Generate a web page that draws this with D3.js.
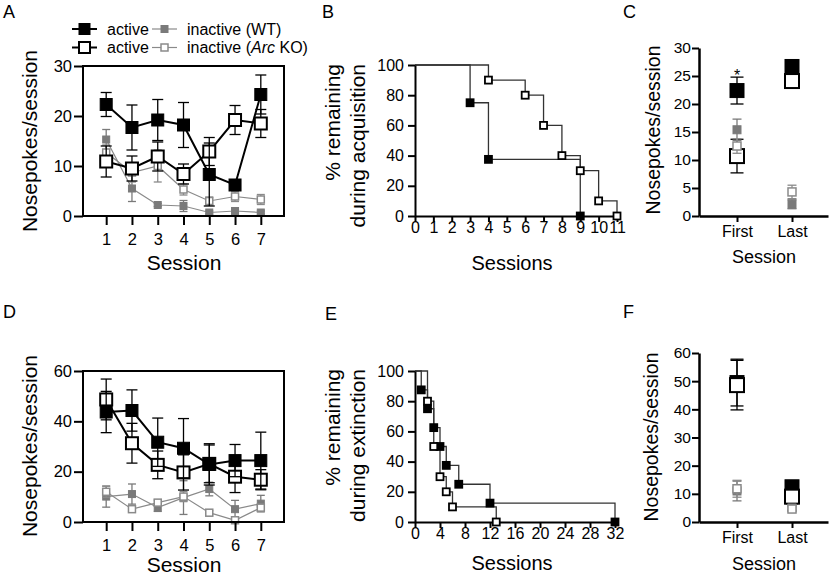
<!DOCTYPE html>
<html>
<head>
<script src="https://d3js.org/d3.v7.min.js"></script>
<style>
  body { margin: 0; background: #fff; }
  svg text { font-family: "Liberation Sans", Arial, sans-serif; fill: #000; }
</style>
</head>
<body>
<script>
// ---- data ----
var sessions = [1, 2, 3, 4, 5, 6, 7];

// A: acquisition, mean and SEM per session
var acqActiveWT      = [22.3, 17.7, 19.2, 18.2, 8.3, 6.2, 24.3];
var acqActiveWTsem   = [2.4, 4.5, 4.1, 4.5, 6.3, 0.8, 3.9];
var acqActiveKO      = [10.9, 9.5, 11.9, 8.4, 12.9, 19.2, 18.5];
var acqActiveKOsem   = [3.1, 2.5, 2.9, 2.0, 2.8, 2.9, 2.8];
var acqInactiveWT    = [15.3, 5.5, 2.2, 2.0, 0.7, 1.0, 0.7];
var acqInactiveWTsem = [2.0, 2.6, 0.3, 1.1, 0.3, 0.3, 0.3];
var acqInactiveKO    = [12.7, 8.7, 10.0, 5.3, 3.0, 3.9, 3.3];
var acqInactiveKOsem = [1.5, 1.9, 3.2, 1.1, 0.8, 1.0, 1.0];

// D: extinction
var extActiveWT      = [43.7, 44.3, 31.7, 29.3, 22.9, 24.4, 24.4];
var extActiveWTsem   = [8.2, 8.2, 9.6, 11.8, 8.2, 6.4, 11.3];
var extActiveKO      = [48.7, 31.3, 22.7, 19.7, 23.1, 18.0, 16.8];
var extActiveKOsem   = [8.1, 7.9, 5.5, 7.0, 7.5, 6.3, 4.0];
var extInactiveWT    = [10.1, 11.1, 5.7, 9.7, 13.1, 5.1, 7.3];
var extInactiveWTsem = [4.2, 4.0, 1.5, 6.7, 2.7, 3.5, 3.3];
var extInactiveKO    = [12.0, 5.1, 7.7, 10.1, 3.7, 0.7, 5.7];
var extInactiveKOsem = [2.2, 0.8, 1.0, 2.0, 0.8, 0.5, 1.0];

// B: % remaining during acquisition (step points)
var acqSurvWTt  = [0, 3, 4, 9];
var acqSurvWT   = [100, 75, 37.5, 0];
var acqSurvKOt  = [0, 4, 6, 7, 8, 9, 10, 11];
var acqSurvKO   = [100, 90, 80, 60, 40, 30, 10, 0];

// E: % remaining during extinction
var extSurvWTt  = [0, 1, 2, 3, 4, 5, 7, 12, 32];
var extSurvWT   = [100, 87.5, 75, 62.5, 50, 37.5, 25, 12.5, 0];
var extSurvKOt  = [0, 2, 3, 4, 5, 6, 13];
var extSurvKO   = [100, 80, 50, 30, 20, 10, 0];

// C / F: first vs last session
var firstLast = ["First", "Last"];
var cActiveWT = [22.4, 26.7], cActiveWTsem = [2.4, 1.2];
var cActiveKO = [10.7, 24.1], cActiveKOsem = [3.0, 1.0];
var cInactiveWT = [15.4, 2.1], cInactiveWTsem = [1.9, 0.8];
var cInactiveKO = [12.5, 4.3], cInactiveKOsem = [1.3, 1.2];

var fActiveWT = [49.5, 12.5], fActiveWTsem = [8.3, 1.0];
var fActiveKO = [48.6, 9.0], fActiveKOsem = [8.8, 2.5];
var fInactiveWT = [11.0, 5.0], fInactiveWTsem = [3.5, 0.8];
var fInactiveKO = [11.8, 4.6], fInactiveKOsem = [3.0, 0.8];

var acqTicksY = [0, 10, 20, 30];
var extTicksY = [0, 20, 40, 60];
var survTicksY = [0, 20, 40, 60, 80, 100];
var acqSurvTicksX = d3.range(0, 12);
var extSurvTicksX = [0, 4, 8, 12, 16, 20, 24, 28, 32];
var cTicksY = [0, 5, 10, 15, 20, 25, 30];
var fTicksY = [0, 10, 20, 30, 40, 50, 60];

// ---- styles ----
var gray = "#7a7a7a";
var styles = {
  activeWT:   {fill: "#000", stroke: "#000", sw: 1, size: 12, line: "#000", lw: 2, err: "#000", cap: 11},
  activeKO:   {fill: "#fff", stroke: "#000", sw: 2, size: 12, line: "#000", lw: 2, err: "#000", cap: 11},
  inactiveWT: {fill: gray, stroke: gray, sw: 1, size: 7, line: "#8a8a8a", lw: 1.2, err: gray, cap: 8},
  inactiveKO: {fill: "#fff", stroke: "#8a8a8a", sw: 1.5, size: 7, line: "#8a8a8a", lw: 1.2, err: "#8a8a8a", cap: 8}
};

var svg = d3.select("body").append("svg")
  .attr("width", 830).attr("height", 576);

function styleAxis(g, fs) {
  g.attr("font-family", "Liberation Sans, Arial, sans-serif").attr("font-size", fs);
  g.selectAll("line").attr("stroke", "#000").attr("stroke-width", 2);
  g.selectAll("path").attr("stroke", "#000").attr("stroke-width", 2);
  g.selectAll("text").attr("fill", "#000");
}

function square(g, x, y, st, big) {
  var s = big || st.size;
  g.append("rect")
    .attr("x", x - s / 2).attr("y", y - s / 2)
    .attr("width", s).attr("height", s)
    .attr("fill", st.fill).attr("stroke", st.stroke).attr("stroke-width", st.sw);
}

function errBar(g, x, y, mean, sem, st) {
  var t = y(mean + sem), b = y(Math.max(0, mean - sem));
  g.append("line").attr("x1", x).attr("x2", x).attr("y1", t).attr("y2", b)
    .attr("stroke", st.err).attr("stroke-width", 1.3);
  [t, b].forEach(function(v) {
    g.append("line").attr("x1", x - st.cap / 2).attr("x2", x + st.cap / 2)
      .attr("y1", v).attr("y2", v).attr("stroke", st.err).attr("stroke-width", 1.3);
  });
}

function yLabel(lines, x0, y0, anchor, fs) {
  lines.forEach(function(t, i) {
    svg.append("text")
      .attr("transform", "translate(" + (x0 + i * 25) + "," + y0 + ") rotate(-90)")
      .attr("text-anchor", anchor).attr("font-size", fs).text(t);
  });
}

// ---- session line panels (A, D) ----
function sessionPanel(top, bottom, ymax, ticks, series) {
  var x = d3.scaleLinear().domain([0.1, 7.9]).range([83, 284]);
  var y = d3.scaleLinear().domain([0, ymax]).range([bottom, top]);
  var g = svg.append("g");

  series.forEach(function(s) {
    var st = styles[s.key];
    s.mean.forEach(function(m, i) { errBar(g, x(sessions[i]), y, m, s.sem[i], st); });
    g.append("path")
      .attr("d", d3.line().x(function(d, i) { return x(sessions[i]); }).y(function(d) { return y(d); })(s.mean))
      .attr("fill", "none").attr("stroke", st.line).attr("stroke-width", st.lw);
    s.mean.forEach(function(m, i) { square(g, x(sessions[i]), y(m), st); });
  });

  g.append("rect").attr("x", 83).attr("y", top).attr("width", 201).attr("height", bottom - top)
    .attr("fill", "none").attr("stroke", "#000").attr("stroke-width", 2);

  var ay = g.append("g").attr("transform", "translate(83,0)")
    .call(d3.axisLeft(y).tickValues(ticks).tickSize(9).tickSizeOuter(0).tickPadding(2));
  ay.select(".domain").remove();
  styleAxis(ay, 16.5);
  var ax = g.append("g").attr("transform", "translate(0," + bottom + ")")
    .call(d3.axisBottom(x).tickValues(sessions).tickSize(9).tickSizeOuter(0).tickPadding(8));
  ax.select(".domain").remove();
  styleAxis(ax, 16.5);
}

// ---- survival panels (B, E) ----
function survPanel(top, bottom, xmax, xright, xticks, wt, wtT, ko, koT) {
  var x = d3.scaleLinear().domain([0, xmax]).range([415, xright]);
  var y = d3.scaleLinear().domain([0, 100]).range([bottom, top]);
  var g = svg.append("g");
  var step = d3.line().curve(d3.curveStepAfter)
    .x(function(d) { return x(d[0]); }).y(function(d) { return y(d[1]); });

  [[wt, wtT], [ko, koT]].forEach(function(s) {
    var pts = s[0].map(function(v, i) { return [s[1][i], v]; });
    g.append("path").attr("d", step(pts))
      .attr("fill", "none").attr("stroke", "#333").attr("stroke-width", 1.3);
  });

  var ax = g.append("g").attr("transform", "translate(0," + bottom + ")")
    .call(d3.axisBottom(x).tickValues(xticks).tickSize(6).tickSizeOuter(0).tickPadding(0));
  styleAxis(ax, 16);
  var ay = g.append("g").attr("transform", "translate(415,0)")
    .call(d3.axisLeft(y).tickValues(survTicksY).tickSize(7).tickSizeOuter(0).tickPadding(4));
  styleAxis(ay, 16);

  [[wt, wtT, styles.activeWT], [ko, koT, styles.activeKO]].forEach(function(s) {
    var st = {fill: s[2].fill, stroke: "#000", sw: 1.8};
    s[0].forEach(function(v, i) {
      if (i > 0) square(g, x(s[1][i]), y(v), st, 7);
    });
  });
}

// ---- first/last panels (C, F) ----
function firstLastPanel(top, bottom, ymax, ticks, series) {
  var x = d3.scaleLinear().domain([0, 1]).range([737, 792]);
  x.domain([x.invert(699), x.invert(828)]).range([699, 828]);
  var y = d3.scaleLinear().domain([0, ymax]).range([bottom, top]);
  var g = svg.append("g");

  series.forEach(function(s) {
    var st = styles[s.key];
    var big = st.size > 10 ? 14 : 8;
    s.mean.forEach(function(m, i) {
      errBar(g, x(i), y, m, s.sem[i], {err: st.err, cap: st.size > 10 ? 13 : 9});
      square(g, x(i), y(m), st, big);
    });
  });

  var ax = g.append("g").attr("transform", "translate(0," + bottom + ")")
    .call(d3.axisBottom(x).tickValues([0, 1]).tickFormat(function(i) { return firstLast[i]; })
      .tickSize(6).tickSizeOuter(0).tickPadding(4));
  styleAxis(ax, 16);
  ax.select(".domain").attr("stroke-width", 2.5);
  var ay = g.append("g").attr("transform", "translate(699,0)")
    .call(d3.axisLeft(y).tickValues(ticks).tickSize(7).tickSizeOuter(0).tickPadding(1));
  styleAxis(ay, 15.5);
  ay.select(".domain").attr("stroke-width", 2.5);
  return {x: x, y: y};
}

// A
sessionPanel(66, 216, 30, acqTicksY, [
  {key: "inactiveWT", mean: acqInactiveWT, sem: acqInactiveWTsem},
  {key: "inactiveKO", mean: acqInactiveKO, sem: acqInactiveKOsem},
  {key: "activeKO", mean: acqActiveKO, sem: acqActiveKOsem},
  {key: "activeWT", mean: acqActiveWT, sem: acqActiveWTsem}
]);
// D
sessionPanel(371, 522, 60, extTicksY, [
  {key: "inactiveWT", mean: extInactiveWT, sem: extInactiveWTsem},
  {key: "inactiveKO", mean: extInactiveKO, sem: extInactiveKOsem},
  {key: "activeKO", mean: extActiveKO, sem: extActiveKOsem},
  {key: "activeWT", mean: extActiveWT, sem: extActiveWTsem}
]);
// B, E
survPanel(65, 216, 11, 617, acqSurvTicksX, acqSurvWT, acqSurvWTt, acqSurvKO, acqSurvKOt);
survPanel(371, 522, 32, 615, extSurvTicksX, extSurvWT, extSurvWTt, extSurvKO, extSurvKOt);
// C
var pc = firstLastPanel(48, 216, 30, cTicksY, [
  {key: "activeWT", mean: cActiveWT, sem: cActiveWTsem},
  {key: "activeKO", mean: cActiveKO, sem: cActiveKOsem},
  {key: "inactiveWT", mean: cInactiveWT, sem: cInactiveWTsem},
  {key: "inactiveKO", mean: cInactiveKO, sem: cInactiveKOsem}
]);
svg.append("text").attr("x", pc.x(0)).attr("y", 81).attr("text-anchor", "middle")
  .attr("font-size", 16).text("*");
// F
firstLastPanel(353, 522, 60, fTicksY, [
  {key: "activeWT", mean: fActiveWT, sem: fActiveWTsem},
  {key: "activeKO", mean: fActiveKO, sem: fActiveKOsem},
  {key: "inactiveWT", mean: fInactiveWT, sem: fInactiveWTsem},
  {key: "inactiveKO", mean: fInactiveKO, sem: fInactiveKOsem}
]);

// axis titles
yLabel(["Nosepokes/session"], 37, 141, "middle", 21);
yLabel(["Nosepokes/session"], 37, 446, "middle", 21);
yLabel(["% remaining", "during acquisition"], 340, 64, "end", 21);
yLabel(["% remaining", "during extinction"], 340, 369, "end", 21);
yLabel(["Nosepokes/session"], 660, 130, "middle", 19.5);
yLabel(["Nosepokes/session"], 658, 437, "middle", 19.5);

[[184, 270, "Session", 21], [184, 572, "Session", 21],
 [512, 270, "Sessions", 20], [512, 570, "Sessions", 20],
 [764, 263, "Session", 18], [764, 570, "Session", 18]].forEach(function(d) {
  svg.append("text").attr("x", d[0]).attr("y", d[1]).attr("text-anchor", "middle")
    .attr("font-size", d[3]).text(d[2]);
});

// panel letters
[["A", 3, 18], ["B", 322, 18], ["C", 623, 18], ["D", 3, 318], ["E", 325, 320], ["F", 623, 318]]
  .forEach(function(d) {
    svg.append("text").attr("x", d[1]).attr("y", d[2]).attr("font-size", 18).text(d[0]);
  });

// legend
var legendRows = [
  [{key: "activeWT", label: "active"}, {key: "inactiveWT", label: "inactive (WT)"}],
  [{key: "activeKO", label: "active"}, {key: "inactiveKO", label: "inactive (", italic: "Arc", rest: " KO)"}]
];
legendRows.forEach(function(row, r) {
  var cy = 29 + r * 18.5;
  row.forEach(function(item, c) {
    var x0 = 72 + c * 80, st = styles[item.key];
    svg.append("line").attr("x1", x0).attr("x2", x0 + 25).attr("y1", cy).attr("y2", cy)
      .attr("stroke", st.line).attr("stroke-width", st.lw);
    square(svg, x0 + 12.5, cy, st, st.size > 10 ? 11 : 7);
    var t = svg.append("text").attr("x", x0 + 35).attr("y", cy + 5.5).attr("font-size", 16);
    t.append("tspan").text(item.label);
    if (item.italic) {
      t.append("tspan").attr("font-style", "italic").text(item.italic);
      t.append("tspan").text(item.rest);
    }
  });
});
</script>
</body>
</html>
